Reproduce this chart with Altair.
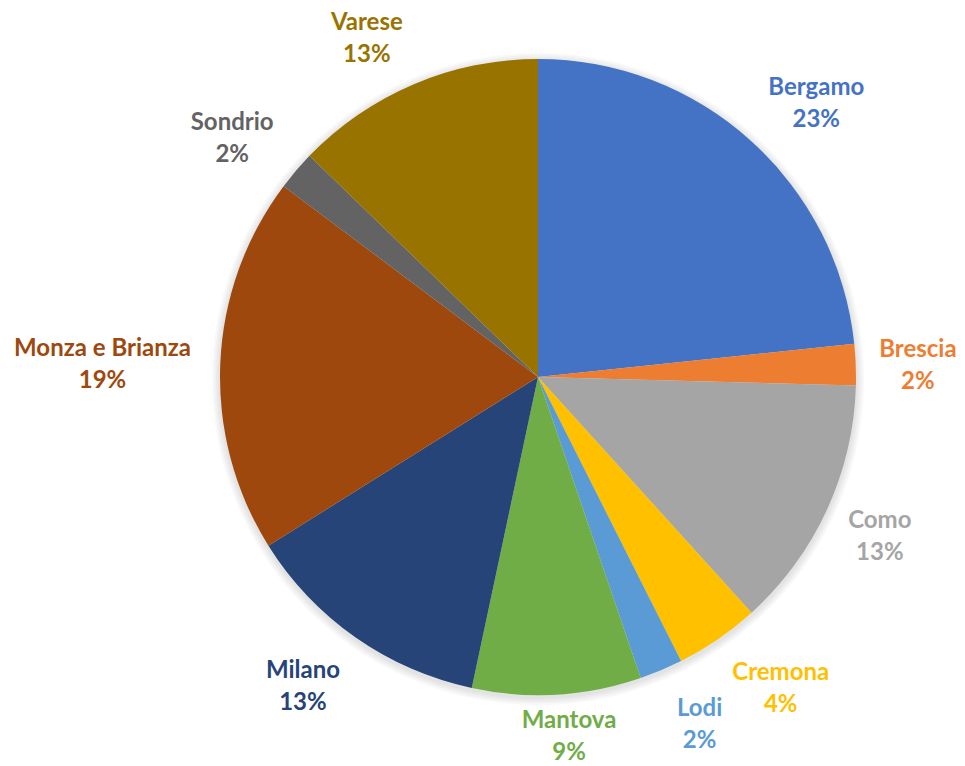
import altair as alt
import pandas as pd

provinces = ["Bergamo", "Brescia", "Como", "Cremona", "Lodi", "Mantova",
             "Milano", "Monza e Brianza", "Sondrio", "Varese"]
shares = [23.4, 2.1, 12.9, 4.3, 2.2, 8.6, 12.8, 19.2, 2.0, 12.8]
colors = ["#4472C4", "#ED7D31", "#A5A5A5", "#FFC000", "#5B9BD5", "#70AD47",
          "#264478", "#9E480E", "#636363", "#997300"]

df = pd.DataFrame({"provincia": provinces, "valore": shares,
                   "ordine": list(range(len(provinces)))})

CX, CY, R = 530, 369, 318
GAP, HALF_H, CHAR_W = 26, 29, 6.3
TOP_LIM, BOT_LIM, LEFT_LIM, RIGHT_LIM = 31, 729, 0, 954

color = alt.Color("provincia:N", scale=alt.Scale(domain=provinces, range=colors), legend=None)

base = alt.Chart(df).transform_joinaggregate(
    totale="sum(valore)"
).transform_window(
    cum="sum(valore)", sort=[alt.SortField("ordine")], frame=[None, 0]
).transform_calculate(
    mid="2*PI*(datum.cum - datum.valore/2)/datum.totale",
    pct="format(datum.valore/datum.totale, '.0%')",
    hw=f"{CHAR_W}*length(datum.provincia)",
).transform_calculate(
    lx0=f"{CX} + sin(datum.mid)*{R + GAP} + datum.hw*clamp(2.5*sin(datum.mid), -1, 1) + 4*(sin(datum.mid) > 0 ? 1 : 0)",
    ly0=f"{CY} + 4 - cos(datum.mid)*{R + GAP} - {HALF_H}*cos(datum.mid)",
).transform_calculate(
    lx=f"clamp(datum.lx0, {LEFT_LIM} + datum.hw, {RIGHT_LIM} - datum.hw)",
    ly=f"clamp(datum.ly0, {TOP_LIM}, {BOT_LIM})",
)

shadow_layers = [
    base.mark_arc(outerRadius=R + k, color="black", opacity=0.028, stroke=None).encode(
        theta=alt.Theta("valore:Q", stack=True),
        order=alt.Order("ordine:Q"),
        x=alt.value(CX),
        y=alt.value(CY + 2),
    )
    for k in (2, 4, 6, 8)
]

pie = base.mark_arc(outerRadius=R, stroke=None).encode(
    theta=alt.Theta("valore:Q", stack=True),
    order=alt.Order("ordine:Q"),
    color=color,
    x=alt.value(CX),
    y=alt.value(CY),
)

text_style = dict(font="Lato", fontWeight="bold", fontSize=24,
                  align="center", baseline="middle")

names = base.mark_text(dy=-16, **text_style).encode(
    x=alt.X("lx:Q", scale=None),
    y=alt.Y("ly:Q", scale=None),
    text="provincia:N",
    color=color,
)
pcts = base.mark_text(dy=16, **text_style).encode(
    x=alt.X("lx:Q", scale=None),
    y=alt.Y("ly:Q", scale=None),
    text="pct:N",
    color=color,
)

chart = alt.layer(*shadow_layers, pie, names, pcts).properties(
    width=949, height=757, padding=0, autosize="none"
).configure_view(stroke=None)

chart.save("out.html", embed_options={"renderer": "svg", "actions": False})
